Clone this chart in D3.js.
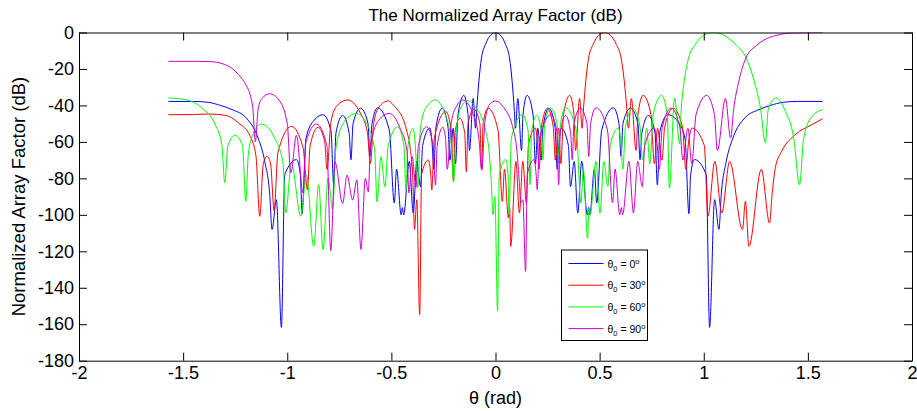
<!DOCTYPE html>
<html>
<head>
<meta charset="utf-8">
<script src="https://cdn.jsdelivr.net/npm/d3@7/dist/d3.min.js"></script>
<style>
body { margin: 0; background: #fff; }
text { font-family: "Liberation Sans", Arial, Helvetica, sans-serif; }
</style>
</head>
<body>
<script>
// theta (rad), normalized array factor (dB)
var af0 = [[-1.5708,-37.8],[-1.45,-37.8],[-1.38,-38.3],[-1.32,-40],[-1.26,-42.5],[-1.2,-46.5],[-1.14,-57.9],[-1.108,-70.7],[-1.084,-88.9],[-1.073,-108],
    [-1.052,-91.7],[-1.028,-161.7],[-1.012,-78],[-0.956,-69.7],[-0.937,-78],[-0.929,-99.4],
    [-0.91,-58],[-0.87,-48],[-0.828,-45.1],[-0.79,-54],[-0.777,-83.5],[-0.766,-55],[-0.734,-45.5],[-0.703,-55],[-0.694,-69.8],
    [-0.684,-50],[-0.648,-41.5],[-0.612,-50],[-0.603,-68],[-0.593,-50],[-0.566,-41.3],[-0.51,-53.5],[-0.486,-93.5],
    [-0.475,-74.9],[-0.453,-100],[-0.447,-96],[-0.441,-100],[-0.414,-70.7],[-0.395,-99],[-0.378,-70.7],[-0.36,-84.5],
    [-0.35,-62],[-0.315,-52.4],[-0.305,-60],[-0.296,-75],[-0.286,-52],[-0.256,-41.5],[-0.228,-52],[-0.219,-70],
    [-0.203,-52.5],[-0.192,-72],[-0.18,-45],[-0.152,-34.5],[-0.132,-45],[-0.125,-64.7],[-0.107,-36.2],[-0.096,-52.5],
    [-0.09,-42],[-0.08,-27],[-0.068,-14.5],[-0.048,-6.5],[-0.024,-1.5],[0,0],
    [0.024,-1.5],[0.048,-6.5],[0.068,-14.5],[0.08,-27],[0.09,-42],[0.096,-52.5],[0.107,-36.2],[0.125,-64.7],
    [0.132,-45],[0.152,-34.5],[0.18,-45],[0.192,-72],[0.203,-52.5],[0.219,-70],[0.228,-52],[0.256,-41.5],[0.286,-52],[0.296,-75],
    [0.305,-60],[0.315,-52.4],[0.35,-62],[0.36,-84.5],[0.378,-70.7],[0.395,-99],[0.414,-70.7],[0.441,-100],
    [0.447,-96],[0.453,-100],[0.475,-74.9],[0.486,-93.5],[0.51,-53.5],[0.566,-41.3],[0.593,-50],[0.603,-68],
    [0.612,-50],[0.648,-41.5],[0.684,-50],[0.694,-69.8],[0.703,-55],[0.734,-45.5],[0.766,-55],[0.777,-83.5],
    [0.79,-54],[0.828,-45.1],[0.87,-48],[0.91,-58],[0.929,-99.4],[0.937,-78],[0.956,-69.7],[1.012,-78],[1.028,-161.7],
    [1.052,-91.7],[1.073,-108],[1.084,-88.9],[1.108,-70.7],[1.14,-57.9],[1.2,-46.5],[1.26,-42.5],[1.32,-40],[1.38,-38.3],[1.45,-37.8],[1.5708,-37.8]];

var af30 = [[-1.5708,-45.1],[-1.45,-45],[-1.378,-44.7],[-1.298,-45.4],[-1.234,-49.6],[-1.178,-56.9],[-1.15,-68],[-1.132,-100.8],
    [-1.115,-72],[-1.097,-67.9],[-1.08,-72],[-1.063,-97.7],[-1.045,-66],[-0.98,-51.5],[-0.924,-63.3],[-0.903,-86.2],
    [-0.89,-62],[-0.852,-52],[-0.82,-60],[-0.809,-75.2],[-0.79,-49],[-0.76,-40],[-0.71,-37],[-0.65,-44],[-0.615,-55],[-0.601,-71.8],
    [-0.585,-50],[-0.56,-41],[-0.515,-37.5],[-0.503,-38.3],[-0.488,-40],[-0.469,-42.5],[-0.447,-46.5],[-0.426,-54],[-0.409,-64],[-0.397,-80],[-0.389,-108],
    [-0.378,-91.7],[-0.364,-154.8],[-0.355,-78],[-0.323,-69.9],[-0.311,-78],[-0.306,-86.4],[-0.294,-58],[-0.239,-43.4],[-0.212,-54],[-0.202,-81.8],
    [-0.195,-55],[-0.171,-47],[-0.148,-55],[-0.14,-76.4],[-0.132,-50],[-0.104,-42],[-0.075,-50],[-0.067,-75.4],
    [-0.059,-50],[-0.036,-41.5],[0.012,-53.5],[0.033,-92.6],[0.043,-74.9],[0.062,-101.7],[0.068,-96],[0.073,-117.3],
    [0.098,-70.7],[0.115,-99],[0.131,-70.7],[0.1485,-93.5],[0.158,-62],[0.191,-52.4],[0.201,-60],[0.2095,-75],
    [0.22,-52],[0.2496,-41.5],[0.2776,-52],[0.287,-70],[0.3026,-52.5],[0.314,-72],[0.3267,-45],[0.3565,-34.5],[0.3768,-45],[0.3844,-64.7],
    [0.4039,-36.2],[0.4159,-52.5],[0.4224,-42],[0.4332,-27],[0.4463,-14.5],[0.469,-6.5],[0.4961,-1.5],[0.5236,0],
    [0.5515,-1.5],[0.58,-6.5],[0.6041,-14.5],[0.6187,-27],[0.6308,-42],[0.6381,-52.5],[0.6523,-36.2],[0.6751,-64.7],
    [0.6841,-45],[0.7089,-34.5],[0.7465,-45],[0.7629,-72],[0.7781,-52.5],[0.7994,-70],[0.8123,-52],[0.8526,-41.5],[0.8979,-52],[0.914,-75],
    [0.9273,-60],[0.9441,-52.4],[1.0028,-62],[1.0198,-100.8],[1.0532,-70.7],[1.0865,-99],[1.1244,-70.7],[1.1862,-108.1],
    [1.2,-92.6],[1.2168,-117.3],[1.2765,-75],[1.316,-104.5],[1.328,-89],[1.344,-74],[1.375,-65],[1.44,-56],[1.52,-50.5],[1.5708,-47.3]];

var af60 = [[-1.5708,-35.9],[-1.49,-36.8],[-1.41,-41.4],[-1.346,-50.5],[-1.314,-61.5],[-1.3,-82.5],
    [-1.285,-62],[-1.25,-56.4],[-1.215,-62],[-1.199,-92.6],[-1.187,-67],[-1.165,-56],[-1.124,-50.2],[-1.06,-58],[-1.02,-72],[-1.007,-99],
    [-0.98,-71.6],[-0.935,-100.8],[-0.908,-78],[-0.873,-117.3],[-0.849,-83.5],[-0.828,-119.1],[-0.804,-79.8],[-0.782,-97],
    [-0.765,-62],[-0.72,-48],[-0.67,-44.4],[-0.61,-52],[-0.58,-65],[-0.569,-92.8],[-0.55,-68.1],[-0.531,-84.6],
    [-0.515,-62],[-0.47,-51.7],[-0.44,-62],[-0.43,-86.4],[-0.42,-62],[-0.396,-52.6],[-0.385,-62],[-0.373,-85],
    [-0.36,-52],[-0.33,-40.5],[-0.288,-37],[-0.245,-44],[-0.215,-58],[-0.201,-81.8],
    [-0.19,-55],[-0.165,-41],[-0.134,-37.4],[-0.116,-38.3],[-0.103,-40],[-0.086,-42.5],[-0.066,-46.5],[-0.047,-54],[-0.032,-64],[-0.021,-80],[-0.012,-100],
    [-0.003,-90],[0.01,-152.6],[0.018,-78],[0.049,-69.7],[0.06,-78],[0.065,-99.4],
    [0.0761,-58],[0.1294,-45.1],[0.1566,-54],[0.1658,-83.5],[0.1729,-55],[0.1973,-45.5],[0.2208,-55],[0.228,-69.8],
    [0.2362,-50],[0.2651,-41.5],[0.2953,-50],[0.3037,-68],[0.3121,-50],[0.3364,-41.3],[0.3877,-53.5],[0.4104,-93.5],
    [0.4213,-74.9],[0.4423,-112.8],[0.4489,-96],[0.4544,-100],[0.4824,-70.7],[0.5018,-99],[0.5202,-70.7],[0.5398,-84.5],
    [0.5504,-62],[0.5898,-52.4],[0.6017,-60],[0.6116,-75],[0.6239,-52],[0.66,-41.5],[0.6945,-52],[0.7063,-70],
    [0.7262,-52.5],[0.741,-72],[0.7574,-45],[0.797,-34.5],[0.825,-45],[0.835,-85.3],[0.86,-35.9],[0.884,-61],
    [0.892,-42],[0.906,-27],[0.926,-14.5],[0.96,-6.5],[1.0,-1.5],[1.0472,0],[1.0973,-1.5],[1.1527,-6.5],[1.2062,-14.5],[1.243,-27],[1.273,-42],[1.296,-60.6],
    [1.31,-42],[1.347,-35.9],[1.392,-43.2],[1.432,-57.9],[1.46,-83.5],[1.48,-57.9],[1.52,-46],[1.5708,-42.3]];

var af90 = [[-1.5708,-15.8],[-1.45,-15.8],[-1.378,-15.9],[-1.298,-17.6],[-1.234,-23.1],[-1.195,-29.5],[-1.178,-34.1],[-1.165,-42],[-1.153,-60],
    [-1.14,-42],[-1.12,-36],[-1.084,-33.6],[-1.04,-37],[-1,-50],[-0.983,-77],[-0.956,-56.4],[-0.924,-88],
    [-0.91,-60],[-0.86,-50.2],[-0.81,-62],[-0.791,-119.7],[-0.771,-70.9],[-0.734,-93.8],[-0.713,-78.2],[-0.686,-91.9],
    [-0.666,-80.9],[-0.646,-119],[-0.625,-80],[-0.611,-87.3],[-0.6,-62],[-0.56,-48],[-0.51,-44.4],[-0.46,-52],[-0.425,-65],[-0.416,-88],
    [-0.4,-68.1],[-0.382,-85],[-0.37,-62],[-0.331,-51.7],[-0.3,-62],[-0.288,-83.7],[-0.28,-62],[-0.253,-52],[-0.24,-58],[-0.232,-75],
    [-0.212,-49],[-0.185,-40],[-0.158,-37],[-0.1,-47],[-0.08,-58],[-0.066,-75.4],[-0.05,-48],[-0.025,-39],
    [0,-37.6],[0.018,-38.3],[0.031,-40],[0.048,-42.5],[0.068,-46.5],[0.0871,-54],[0.1022,-64],[0.1132,-80],[0.1213,-93.5],
    [0.1314,-91.7],[0.1445,-131],[0.1526,-78],[0.184,-69.7],[0.1952,-78],[0.2003,-86.2],
    [0.2116,-58],[0.2661,-45.1],[0.2942,-54],[0.3036,-83.5],[0.311,-55],[0.3363,-45.5],[0.3607,-55],[0.3683,-69.8],
    [0.3768,-50],[0.4071,-41.5],[0.439,-50],[0.4478,-68],[0.4566,-50],[0.4826,-41.3],[0.5375,-53.5],[0.5622,-93.5],
    [0.574,-74.9],[0.5968,-100],[0.6041,-96],[0.6102,-100],[0.641,-70.7],[0.6624,-99],[0.6828,-70.7],[0.705,-84.5],
    [0.7167,-62],[0.7615,-52.4],[0.7753,-60],[0.7863,-75],[0.8009,-52],[0.8436,-41.5],[0.8852,-52],[0.8995,-70],
    [0.924,-52.5],[0.9424,-72],[0.9631,-45],[1.0141,-34.5],[1.0512,-45],[1.0654,-64.7],[1.104,-36.2],[1.1291,-57.9],
    [1.1437,-42],[1.1681,-27],[1.2002,-14.5],[1.2598,-6.5],[1.3514,-1.5],[1.44,-0.2],[1.5708,0]];

var steerAngles = ["0", "30", "60", "90"];
var xTicks = [-2, -1.5, -1, -0.5, 0, 0.5, 1, 1.5, 2];
var yTicks = [0, -20, -40, -60, -80, -100, -120, -140, -160, -180];

var colors = ["#0000ff", "#ff0000", "#00ff00", "#cc00cc"];

var svg = d3.select("body")
        .append("svg")
        .attr("width", "917")
        .attr("height", "411")
        .style('display', 'block');
    margin = {top: 32.5, right: 5, bottom: 50.3, left: 79};
    width = +svg.attr("width") - margin.left - margin.right;
    height = +svg.attr("height") - margin.top - margin.bottom;
    g = svg.append("g").attr("transform", "translate(" + margin.left + "," + margin.top + ")");

var x = d3.scaleLinear()
    .domain([-2, 2])
    .range([0, width]);

var y = d3.scaleLinear()
    .domain([-180, 0])
    .range([height, 0]);

var fmt = function(d) { return String(d); };

g.append("defs").append("clipPath")
    .attr("id", "plotclip")
    .append("rect")
    .attr("width", width)
    .attr("height", height);

var line = d3.line()
    .x(function(d) { return x(d[0]); })
    .y(function(d) { return y(d[1]); })
    .curve(d3.curveMonotoneX);

var series = [af0, af30, af60, af90];

g.append("g")
    .attr("clip-path", "url(#plotclip)")
    .selectAll("path")
    .data(series)
    .enter()
    .append("path")
    .attr("d", line)
    .attr("fill", "none")
    .attr("stroke", function(d, i) { return colors[i]; })
    .attr("stroke-width", 1);

// axes, MATLAB style: box on, ticks inside
g.append("g")
    .attr("transform", "translate(0," + height + ")")
    .call(d3.axisBottom(x).tickValues(xTicks).tickFormat(fmt).tickSize(-8).tickSizeOuter(0).tickPadding(6))
    .call(styleAxis);

g.append("g")
    .call(d3.axisTop(x).tickValues(xTicks).tickFormat("").tickSize(-8).tickSizeOuter(0))
    .call(styleAxis);

g.append("g")
    .call(d3.axisLeft(y).tickValues(yTicks).tickFormat(fmt).tickSize(-8).tickSizeOuter(0).tickPadding(5))
    .call(styleAxis);

g.append("g")
    .attr("transform", "translate(" + width + ",0)")
    .call(d3.axisRight(y).tickValues(yTicks).tickFormat("").tickSize(-8).tickSizeOuter(0))
    .call(styleAxis);

function styleAxis(a) {
    a.select(".domain").attr("stroke", "#000");
    a.selectAll(".tick line").attr("stroke", "#000");
    a.selectAll(".tick text")
        .attr("fill", "#000")
        .style("font-family", "'Liberation Sans', Arial, sans-serif")
        .style("font-size", "18px");
}

svg.append("text")
    .attr("x", margin.left + width / 2)
    .attr("y", 21)
    .attr("text-anchor", "middle")
    .style("font-size", "17px")
    .text("The Normalized Array Factor (dB)");

svg.append("text")
    .attr("x", margin.left + width / 2)
    .attr("y", 404)
    .attr("text-anchor", "middle")
    .style("font-size", "18px")
    .text("\u03b8 (rad)");

svg.append("text")
    .attr("transform", "translate(25," + (margin.top + height / 2) + ") rotate(-90)")
    .attr("text-anchor", "middle")
    .style("font-size", "18.5px")
    .text("Normalized Array Factor (dB)");

// legend
var legend = svg.append("g").attr("transform", "translate(561.5,250)");

legend.append("rect")
    .attr("width", 86)
    .attr("height", 90.5)
    .attr("fill", "#fff")
    .attr("stroke", "#000");

var item = legend.selectAll(".item")
    .data(steerAngles)
    .enter()
    .append("g")
    .attr("class", "item")
    .attr("transform", function(d, i) { return "translate(0," + (13.5 + i * 21.7) + ")"; });

item.append("line")
    .attr("x1", 7)
    .attr("x2", 42)
    .attr("stroke", function(d, i) { return colors[i]; })
    .attr("stroke-width", 1);

var label = item.append("text")
    .attr("x", 46)
    .attr("y", 4)
    .style("font-size", "10.5px");

label.append("tspan").text("\u03b8");
label.append("tspan").attr("dy", 3).style("font-size", "7.5px").text("0");
label.append("tspan").attr("dy", -3).text(function(d) { return " = " + d; });
label.append("tspan").attr("dy", -4).style("font-size", "7.5px").text("o");
</script>
</body>
</html>
